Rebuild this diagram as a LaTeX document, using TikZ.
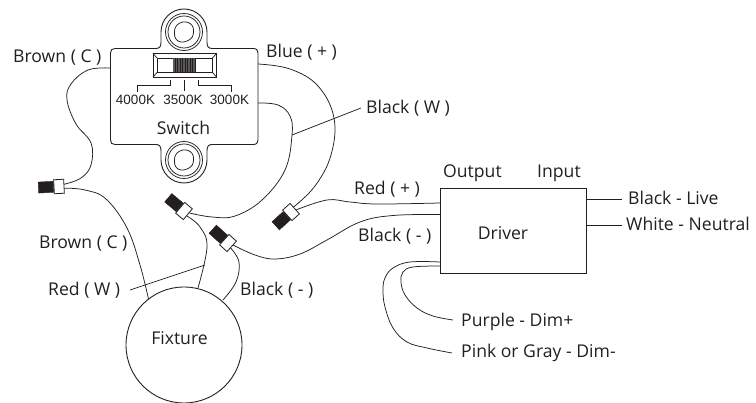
\documentclass[tikz,border=0pt]{standalone}
\usepackage{fontspec}
\setmainfont{Open Sans}
\newfontfamily\arialf{Liberation Sans}
\definecolor{ink}{HTML}{231F20}
\tikzset{
  wire/.style={draw=ink,line width=0.75pt},
  outline/.style={draw=ink,line width=0.9pt},
  lbl/.style={text=ink,inner sep=0pt,font=\fontsize{17.6}{19}\selectfont},
  kelvin/.style={text=ink,inner sep=0pt,font=\arialf\fontsize{13.5}{15}\selectfont},
  nutwhite/.style={draw=ink,fill=white,line width=0.8pt,minimum width=10pt,minimum height=14pt,inner sep=0pt},
  nutblack/.style={draw=ink,fill=ink,minimum width=15pt,minimum height=11pt,inner sep=0pt},
  curve/.style={wire,smooth,tension=0.65}
}
\begin{document}
\begin{tikzpicture}[x=1pt,y=-1pt]
\useasboundingbox (0,0) rectangle (756,403);
% switch
\draw[outline] (115,48.5) -- (156,48.5) .. controls (160,48.5) and (161,46) .. (161,42) -- (161,32)
  .. controls (161,19.3) and (171.3,9) .. (184,9) .. controls (196.7,9) and (207,19.3) .. (207,32)
  -- (207,42) .. controls (207,46) and (208,48.5) .. (212,48.5) -- (253,48.5)
  .. controls (256.5,48.5) and (258,50) .. (258,53) -- (258,140)
  .. controls (258,143) and (256.5,144.5) .. (253,144.5) -- (212,144.5)
  .. controls (208,144.5) and (207,147) .. (207,151) -- (207,160)
  .. controls (207,172.7) and (196.7,183) .. (184,183) .. controls (171.3,183) and (161,172.7) .. (161,160)
  -- (161,151) .. controls (161,147) and (160,144.5) .. (156,144.5) -- (115,144.5)
  .. controls (112,144.5) and (110.5,143) .. (110.5,140) -- (110.5,53)
  .. controls (110.5,50) and (112,48.5) .. (115,48.5) -- cycle;
\foreach \cy in {32,160}{
  \draw[wire] (184,\cy) circle[radius=18.5];
  \draw[wire] (184,\cy) circle[radius=16];
  \draw[wire] plot[smooth cycle,tension=0.8] coordinates {(174.5,\cy-1) (180,{\cy-9}) (190,{\cy-8.5}) (193.5,\cy) (189,{\cy+8}) (178,{\cy+9})};
}
% slide
\draw[outline] (153,53.5) rectangle (216.5,77);
\draw[wire] (157,58) rectangle (212.5,72.5);
\draw[wire] (153,53.5) -- (157,58) (216.5,53.5) -- (212.5,58) (153,77) -- (157,72.5) (216.5,77) -- (212.5,72.5);
\fill[ink!75] (173,58) rectangle (195.5,72.5);
\foreach \lx in {175,177.5,...,195}{ \draw[ink,line width=0.7pt] (\lx,58) -- (\lx,72.5); }
\draw[wire] (170,80) -- (170,85) -- (137.5,85) -- (137.5,92);
\draw[wire] (184,80) -- (184,91);
\draw[wire] (198,80) -- (198,85) -- (231,85) -- (231,92);
\node[kelvin] (k40) at (135.5,99.5) {4000K};
\node[kelvin] (k35) at (183,99.5) {3500K};
\node[kelvin] (k30) at (229.5,99.5) {3000K};
\node[lbl] (swl) at (183.5,128) {Switch};
\coordinate (swBrown) at (110.5,68);
\coordinate (swBlue) at (258,64);
\coordinate (swBlack) at (258,103);
% driver
\node[draw=ink,line width=0.9pt,minimum width=146pt,minimum height=85pt,inner sep=0pt] (drv) at (513,230.5) {};
\node[lbl] at (503,233) {Driver};
\coordinate (dRed) at (440,203);
\coordinate (dBlack) at (440,214.5);
\coordinate (dPurple) at (440,266);
\coordinate (dPink) at (440,262);
\coordinate (dLive) at (586,199);
\coordinate (dNeutral) at (586,225.5);
% fixture
\node[circle,draw=ink,line width=0.9pt,minimum size=116pt,inner sep=0pt] (fix) at (184,345) {};
\node[lbl] at (179.5,338) {Fixture};
\coordinate (fBrown) at (148.5,299);
\coordinate (fRed) at (198,288);
\coordinate (fBlack) at (223,300);
% wire nuts
\node[nutwhite,rotate=3] (c1) at (59,186.5) {};
\node[nutblack,rotate=3,anchor=east] at (c1.west) {};
\node[nutwhite,rotate=-40] (c2) at (184,211) {};
\node[nutblack,rotate=-40,anchor=east] at (c2.west) {};
\node[nutwhite,rotate=42] (c3) at (291,212) {};
\node[nutblack,rotate=42,anchor=east] at (c3.west) {};
\node[nutwhite,rotate=-42] (c4) at (228,243) {};
\node[nutblack,rotate=-42,anchor=east] at (c4.west) {};
% wires
\draw[curve] plot coordinates {(swBrown) (88,70) (71,84) (67,100) (76,124) (91,143) (91,165) (81,178) (c1.20)};
\draw[curve] plot coordinates {(c1.-20) (85,190) (106,199) (127,228) (140,265) (fBrown)};
\draw[curve] plot coordinates {(swBlue) (290,69) (318,86) (334,118) (331,155) (315,186) (c3.20)};
\draw[curve] plot coordinates {(swBlack) (278,105) (290,116) (292,135) (285,170) (262,200) (235,216) (212,217) (c2.20)};
\draw[wire] (292,135) -- (361,108);
\draw[curve] plot coordinates {(c2.-20) (200,227) (207,247) (fRed)};
\draw[wire] (130,290) -- (205,265);
\draw[curve] plot coordinates {(c3.-20) (327,200) (350,202) (377,204) (dRed)};
\draw[curve] plot coordinates {(c4.20) (255,255) (275,259) (300,254) (327,240) (360,222) (393,215.5) (dBlack)};
\draw[curve] plot coordinates {(c4.-20) (239,262) (236,282) (fBlack)};
\draw[wire] (dLive) -- (622,199);
\draw[wire] (dNeutral) -- (622,225.5);
\coordinate (endPurple) at (453,320);
\coordinate (endPink) at (452,353);
\draw[curve] plot coordinates {(dPink) (410,262) (393,268) (385,278) (383,290) (385,307) (393,328) (407,342) (427,348) (endPink)};
\draw[curve] plot coordinates {(dPurple) (413,267) (403,272) (401,282) (405,295) (417,308) (433,316) (endPurple)};
% labels
\node[lbl,anchor=west] at (13,58) {Brown ( C )};
\node[lbl,anchor=west] at (266,52) {Blue ( + )};
\node[lbl,anchor=west] at (366,108) {Black ( W )};
\node[lbl,anchor=west] at (354,189) {Red ( + )};
\node[lbl,anchor=west] at (358,236) {Black ( - )};
\node[lbl,anchor=west] at (443,173) {Output};
\node[lbl,anchor=west] at (537,173) {Input};
\node[lbl,anchor=west] at (628,198) {Black - Live};
\node[lbl,anchor=west] at (626,224) {White - Neutral};
\node[lbl,anchor=west] at (461,322) {Purple - Dim+};
\node[lbl,anchor=west] at (461,353) {Pink or Gray - Dim-};
\node[lbl,anchor=west] at (39,244) {Brown ( C )};
\node[lbl,anchor=west] at (48,290) {Red ( W )};
\node[lbl,anchor=west] at (240,290) {Black ( - )};
\end{tikzpicture}
\end{document}
